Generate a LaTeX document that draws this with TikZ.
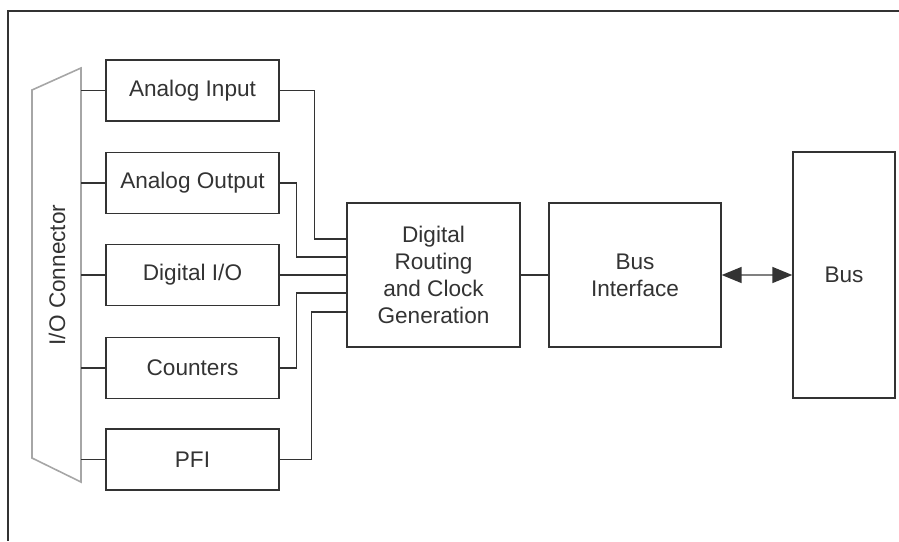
\documentclass[tikz,border=0pt]{standalone}
\usepackage{fontspec}
\setmainfont{Liberation Sans}
\usetikzlibrary{calc,arrows.meta}

\definecolor{ink}{HTML}{333333}

\tikzset{
	blk/.style={draw=ink, line width=0.7pt, text=ink, align=center,
		inner sep=0pt, font=\fontsize{11.3}{13.4}\selectfont},
	wire/.style={draw=ink, line width=0.7pt},
}

\begin{document}
\begin{tikzpicture}[x=0.5pt, y=-0.5pt]
	\pgfmathsetmacro{\bw}{173}			%width of the function blocks
	\pgfmathsetmacro{\bh}{61}			%height of the function blocks
	\pgfmathsetmacro{\bx}{192.5}		%centre of the function blocks
	\pgfmathsetmacro{\my}{275}			%middle line of the picture

	\useasboundingbox (0,0) rectangle (899,541);

	%page frame
	\draw[ink, line width=0.7pt] (899,11) -- (8,11) -- (8,541);

	%connector
	\draw[gray!70, line width=0.8pt] (32,90) -- (81,68) -- (81,482) -- (32,458) -- cycle;
	\node[blk, draw=none, rotate=90] (conn) at (57,\my) {I/O Connector};
	\coordinate (pins) at (81,\my);

	%function blocks
	\node[blk, minimum width=\bw*0.5pt, minimum height=\bh*0.5pt] (ai) at (\bx,90.5) {Analog Input};
	\node[blk, minimum width=\bw*0.5pt, minimum height=\bh*0.5pt] (ao) at (\bx,183) {Analog Output};
	\node[blk, minimum width=\bw*0.5pt, minimum height=\bh*0.5pt] (dio) at (\bx,\my) {Digital I/O};
	\node[blk, minimum width=\bw*0.5pt, minimum height=\bh*0.5pt] (ctr) at (\bx,368) {Counters};
	\node[blk, minimum width=\bw*0.5pt, minimum height=\bh*0.5pt] (pfi) at (\bx,459.5) {PFI};

	%routing, interface and bus
	\node[blk, minimum width=86.5pt, minimum height=72pt] (route) at (433.5,\my) {Digital\\Routing\\and Clock\\Generation};
	\node[blk, minimum width=86pt, minimum height=72pt] (bif) at (635,\my) {Bus\\Interface};
	\node[blk, minimum width=51pt, minimum height=123pt] (bus) at (844,\my) {Bus};

	%pins to blocks
	\foreach \b in {ai,ao,dio,ctr,pfi}
		\draw[wire] (\b.west) -- (\b.west -| pins);

	%blocks to routing
	\draw[wire] (ai.east) -- ++(35,0) |- ([shift={(0,-36)}]route.west);
	\draw[wire] (ao.east) -- ++(17,0) |- ([shift={(0,-18)}]route.west);
	\draw[wire] (dio.east) -- (route.west);
	\draw[wire] (ctr.east) -- ++(17,0) |- ([shift={(0,18)}]route.west);
	\draw[wire] (pfi.east) -- ++(32,0) |- ([shift={(0,37)}]route.west);

	\draw[wire] (route) -- (bif);
	\draw[gray, line width=0.8pt, {Triangle[length=10pt,width=8pt,color=ink]}-{Triangle[length=10pt,width=8pt,color=ink]}] (bif.east) -- (bus.west);
\end{tikzpicture}
\end{document}
